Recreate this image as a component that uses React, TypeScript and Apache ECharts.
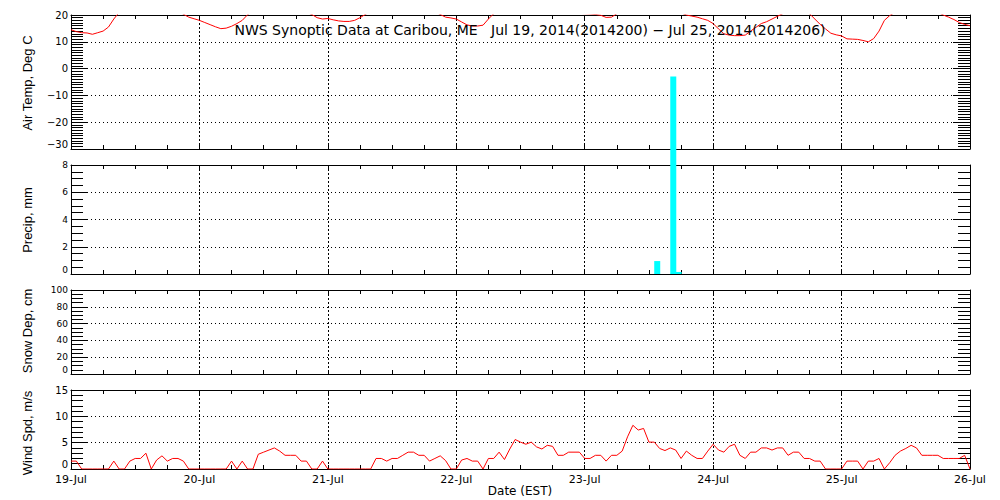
import React, { useEffect, useRef } from 'react';
import * as echarts from 'echarts';

const FONT = '"Liberation Sans", Arial, sans-serif';
const WIDE = '"DejaVu Sans", sans-serif';

// x positions are hours since 19-Jul 00:00 (EST)
const dayLabels = ['19-Jul', '20-Jul', '21-Jul', '22-Jul', '23-Jul', '24-Jul', '25-Jul', '26-Jul'];

// hourly air temperature, deg C (h0 .. h168)
const airTemp = [
  14.5, 13.8, 13.4, 13.3, 12.8, 13.4, 14.0, 15.5, 18.5, 21.0, 22.5, 24.0, 25.0, 25.5, 26.0, 26.0, 25.5, 24.5, 23.5, 22.5, 21.5, 20.3, 19.2, 18.6,
  18.0, 17.2, 16.4, 15.6, 14.9, 15.1, 15.8, 16.8, 18.0, 20.1, 22.0, 23.5, 24.5, 25.5, 26.0, 26.5, 26.0, 25.0, 24.0, 22.5, 21.0, 20.2, 19.0, 18.5,
  18.7, 18.2, 17.8, 17.6, 17.6, 18.0, 19.0, 20.2, 21.5, 23.0, 24.5, 25.5, 26.5, 27.0, 27.5, 27.0, 26.5, 25.5, 24.0, 22.5, 21.2, 20.2, 19.2, 18.9,
  18.5, 17.4, 16.3, 15.9, 15.9, 16.2, 18.5, 20.5, 22.0, 23.5, 25.0, 26.0, 27.0, 27.5, 27.5, 27.0, 26.0, 24.5, 23.0, 22.0, 21.5, 21.0, 20.8, 20.6,
  20.5, 20.4, 20.2, 19.9, 19.1, 19.2, 20.5, 21.5, 22.5, 23.5, 24.5, 25.5, 26.0, 26.5, 26.0, 25.0, 23.5, 21.5, 20.8, 20.0, 19.6, 19.2, 18.6, 18.0,
  16.8, 14.8, 13.0, 12.5, 12.3, 12.3, 12.5, 14.0, 15.4, 16.8, 17.5, 18.5, 19.5, 20.5, 21.5, 22.5, 22.5, 21.5, 20.5, 18.5, 16.5, 14.8, 13.2, 12.6,
  12.2, 11.1, 11.0, 10.9, 10.5, 10.0, 11.2, 14.0, 18.0, 19.8, 21.0, 22.5, 24.0, 25.0, 25.5, 25.0, 24.0, 22.5, 21.0, 20.0, 19.2, 18.3, 17.2, 16.5,
  16.0,
];

// hourly precipitation, mm (hour at start of bar)
const precipHours = [109, 112, 113];
const precipValues = [0.95, 14.5, 0.15];

// hourly wind speed, m/s (h0 .. h168)
const windSpeed = [
  1.5, 1.5, 0, 0, 0, 0, 0, 0, 1.5, 0, 0, 1.5, 2.0, 2.0, 3.0, 0, 1.7, 2.5, 1.5, 2.0, 2.0, 1.5, 0, 0,
  0, 0, 0, 0, 0, 0, 1.5, 0, 1.5, 0, 0, 2.8, 3.2, 3.6, 4.0, 3.4, 2.6, 2.6, 2.6, 1.5, 1.5, 0, 0, 1.5,
  0, 0, 0, 0, 0, 0, 0, 0, 0, 2.0, 2.0, 1.5, 2.0, 2.0, 2.6, 3.2, 3.2, 2.6, 2.6, 1.5, 2.0, 2.5, 1.6, 0,
  0, 1.7, 2.0, 1.5, 1.5, 0, 2.0, 2.0, 3.2, 1.8, 3.8, 5.6, 5.1, 4.7, 5.1, 4.2, 3.8, 4.5, 4.3, 2.6, 2.6, 3.2, 3.2, 3.2,
  2.0, 2.0, 2.6, 2.6, 1.5, 2.6, 2.6, 3.4, 6.1, 8.3, 7.4, 7.7, 5.1, 5.1, 3.9, 3.5, 4.0, 3.6, 2.0, 3.4, 2.6, 2.0, 2.0, 3.4,
  4.7, 3.6, 3.2, 4.3, 4.7, 2.6, 2.0, 3.2, 3.2, 4.0, 4.0, 3.6, 4.0, 4.0, 2.6, 3.2, 3.2, 2.0, 2.0, 1.5, 1.5, 0, 0, 0,
  0, 1.5, 1.5, 1.5, 0, 1.5, 1.5, 2.0, 0, 1.2, 2.6, 3.4, 3.9, 4.5, 4.0, 2.6, 2.6, 2.6, 2.6, 2.0, 2.0, 2.0, 2.0, 2.6,
  0,
];

const panels = [
  { name: 'Air Temp, Deg C', min: -30, max: 20, interval: 10, minor: 10, fontSize: 10, top: 15, height: 134, nameY: 83 },
  { name: 'Precip, mm', min: 0, max: 8, interval: 2, minor: 4, fontSize: 9, top: 165, height: 109, nameY: 220 },
  { name: 'Snow Dep, cm', min: 0, max: 100, interval: 20, minor: 4, fontSize: 9, top: 290, height: 84, nameY: 331 },
  { name: 'Wind Spd, m/s', min: 0, max: 15, interval: 5, minor: 5, fontSize: 10, top: 390, height: 79, nameY: 433 },
];

const TITLE = 'NWS Synoptic Data at Caribou, ME   Jul 19, 2014(2014200) \u2212 Jul 25, 2014(2014206)';

const black = '#000000';

function buildOption() {
  const grid = panels.map((p) => ({ left: 71, top: p.top, width: 899, height: p.height }));
  const xAxis: any[] = [];
  const yAxis: any[] = [];
  panels.forEach((p, g) => {
    const isLast = g === panels.length - 1;
    const base = {
      type: 'value', gridIndex: g, min: 0, max: 168, interval: 24,
      axisLine: { show: true, onZero: false, lineStyle: { color: black, width: 1 } },
      axisTick: { show: true, inside: true, length: 4, lineStyle: { color: black } },
      minorTick: { show: true, splitNumber: 4, length: 4, lineStyle: { color: black } },
    };
    xAxis.push({
      ...base, position: 'bottom',
      axisLabel: {
        show: isLast, margin: 5, fontSize: 11, color: black, fontFamily: WIDE,
        showMinLabel: true, showMaxLabel: true,
        formatter: (v: number) => dayLabels[Math.round(v / 24)] ?? '',
      },
      splitLine: { show: true, lineStyle: { color: black, width: 1, type: [2, 2] } },
    });
    xAxis.push({ ...base, position: 'top', axisLabel: { show: false }, splitLine: { show: false } });

    const ybase = {
      type: 'value', gridIndex: g, min: p.min, max: p.max, interval: p.interval,
      axisLine: { show: true, onZero: false, lineStyle: { color: black, width: 1 } },
      axisTick: { show: true, inside: true, length: 17, lineStyle: { color: black } },
      minorTick: { show: true, splitNumber: p.minor, length: 12, lineStyle: { color: black } },
    };
    yAxis.push({
      ...ybase, position: 'left',
      axisLabel: {
        show: true, margin: 3, fontSize: p.fontSize, color: black, fontFamily: WIDE,
        showMinLabel: true, showMaxLabel: true,
        verticalAlignMinLabel: 'bottom',
        formatter: (v: number) => (v < 0 ? '\u2212' + Math.abs(v) : String(v)),
      },
      splitLine: { show: true, lineStyle: { color: black, width: 1, type: [1, 3] } },
    });
    yAxis.push({ ...ybase, position: 'right', axisLabel: { show: false }, splitLine: { show: false } });
  });

  const graphic: any[] = [
    {
      type: 'text', x: 530, y: 30, z: 100,
      style: { text: TITLE, font: `14px ${WIDE}`, fill: black, textAlign: 'center', textVerticalAlign: 'middle' },
    },
    {
      type: 'text', x: 520, y: 491, z: 100,
      style: { text: 'Date (EST)', font: `12px ${WIDE}`, fill: black, textAlign: 'center', textVerticalAlign: 'middle' },
    },
    ...panels.map((p) => ({
      type: 'text', x: 27, y: p.nameY, rotation: Math.PI / 2, z: 100,
      style: { text: p.name, font: `13px ${FONT}`, fill: black, textAlign: 'center', textVerticalAlign: 'middle' },
    })),
  ];

  return {
    animation: false,
    backgroundColor: '#ffffff',
    grid,
    xAxis,
    yAxis,
    graphic,
    series: [
      {
        type: 'line', xAxisIndex: 0, yAxisIndex: 0,
        data: airTemp.map((v, i) => [i, v]),
        showSymbol: false, clip: true,
        lineStyle: { color: '#ff0000', width: 1 },
        itemStyle: { color: '#ff0000' },
      },
      {
        type: 'bar', xAxisIndex: 2, yAxisIndex: 2,
        data: precipHours.map((h, i) => [h + 0.55, precipValues[i]]),
        barWidth: 6, clip: false, z: 10,
        itemStyle: { color: '#00ffff' },
      },
      {
        type: 'line', xAxisIndex: 6, yAxisIndex: 6,
        data: windSpeed.map((v, i) => [i, v]),
        showSymbol: false, clip: true,
        lineStyle: { color: '#ff0000', width: 1 },
        itemStyle: { color: '#ff0000' },
      },
    ],
  };
}

export default function App() {
  const ref = useRef<HTMLDivElement>(null);
  useEffect(() => {
    if (!ref.current) return;
    const chart = echarts.init(ref.current, null, { renderer: 'svg' });
    chart.setOption(buildOption() as any);
    return () => chart.dispose();
  }, []);
  return (
    <div
      ref={ref}
      style={{ position: 'fixed', left: 0, top: 0, width: 1000, height: 500, background: '#ffffff' }}
    />
  );
}
